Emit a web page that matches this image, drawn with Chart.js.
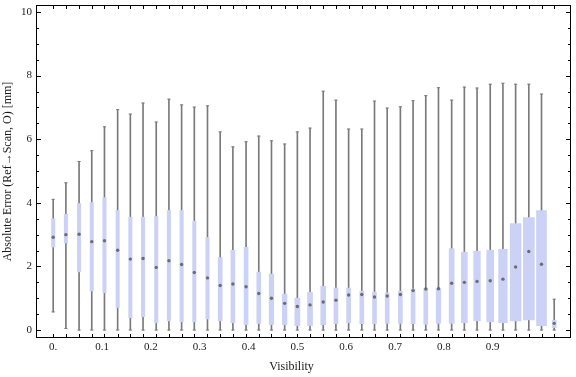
<!DOCTYPE html>
<html>
<head>
<meta charset="utf-8">
<script src="https://cdn.jsdelivr.net/npm/chart.js@4.4.1/dist/chart.umd.min.js"></script>
<style>
  html, body { margin: 0; padding: 0; background: #fff; }
  canvas { display: block; }
</style>
</head>
<body>
<canvas id="chart_absErrorByVisibility" width="576" height="377"></canvas>
<script>
// one box per visibility bin
var visibility = [0, 0.026, 0.053, 0.079, 0.105, 0.132, 0.158, 0.184, 0.211, 0.237,
    0.263, 0.289, 0.316, 0.342, 0.368, 0.395, 0.421, 0.447, 0.474, 0.5,
    0.526, 0.553, 0.579, 0.605, 0.632, 0.658, 0.684, 0.711, 0.737, 0.763,
    0.789, 0.816, 0.842, 0.868, 0.895, 0.921, 0.947, 0.974, 1.0, 1.026];
var whiskerLow = [0.57, 0.05, 0, 0, 0, 0, 0, 0, 0, 0,
    0, 0, 0, 0, 0, 0, 0, 0, 0, 0,
    0, 0, 0, 0, 0, 0, 0, 0, 0, 0,
    0, 0, 0, 0, 0, 0, 0, 0, 0, 0];
var boxLow = [2.61, 2.74, 1.83, 1.23, 1.17, 0.71, 0.39, 0.42, 0.23, 0.29,
    0.26, 0.26, 0.35, 0.29, 0.23, 0.17, 0.21, 0.17, 0.17, 0.14,
    0.14, 0.17, 0.20, 0.23, 0.20, 0.20, 0.21, 0.21, 0.20, 0.18,
    0.21, 0.21, 0.23, 0.29, 0.26, 0.23, 0.29, 0.32, 0.14, 0.08];
var median = [2.92, 3.00, 3.01, 2.78, 2.81, 2.51, 2.23, 2.25, 1.97, 2.18,
    2.06, 1.81, 1.64, 1.40, 1.45, 1.36, 1.15, 1.00, 0.84, 0.74,
    0.79, 0.88, 0.94, 1.10, 1.12, 1.04, 1.07, 1.12, 1.24, 1.29,
    1.30, 1.47, 1.50, 1.53, 1.55, 1.60, 1.98, 2.47, 2.07, 0.21];
var boxHigh = [3.50, 3.64, 3.98, 4.01, 4.16, 3.76, 3.55, 3.55, 3.57, 3.76,
    3.76, 3.42, 2.91, 2.28, 2.51, 2.60, 1.82, 1.76, 1.13, 1.00,
    1.19, 1.38, 1.32, 1.32, 1.22, 1.19, 1.17, 1.22, 1.29, 1.31,
    1.31, 2.56, 2.45, 2.48, 2.51, 2.54, 3.35, 3.54, 3.76, 0.31];
var whiskerHigh = [4.11, 4.63, 5.30, 5.64, 6.39, 6.93, 6.79, 7.14, 6.54, 7.26,
    7.08, 7.01, 7.05, 6.23, 5.76, 5.92, 6.10, 5.95, 5.85, 6.23,
    6.35, 7.51, 7.23, 6.32, 6.32, 7.20, 6.98, 7.02, 7.21, 7.37,
    7.62, 7.23, 7.64, 7.61, 7.73, 7.76, 7.73, 7.73, 7.42, 0.97];
// relative weight of each bin, shown as the box width
var binWeight = [0.85, 0.85, 0.85, 0.85, 0.85, 0.85, 0.85, 0.85, 0.85, 0.85,
    0.85, 0.85, 0.85, 1, 1, 1, 1, 1.15, 1.15, 1.25,
    1.25, 1.25, 1, 1, 1, 1, 1, 1, 1, 1,
    1.15, 1.25, 1.5, 1.65, 1.75, 2.15, 2.7, 2.75, 2.5, 1];

var xTickValues = [0, 0.1, 0.2, 0.3, 0.4, 0.5, 0.6, 0.7, 0.8, 0.9];
var xTickLabels = ['0.', '0.1', '0.2', '0.3', '0.4', '0.5', '0.6', '0.7', '0.8', '0.9'];
var yTickValues = [0, 2, 4, 6, 8, 10];
var yTickLabels = ['0', '2', '4', '6', '8', '10'];

var BOX_COLOR = 'rgb(204, 210, 245)';
var WHISKER_COLOR = '#7a7a7a';
var MEDIAN_COLOR = 'rgba(90, 90, 90, 0.85)';
var TEXT_COLOR = '#1a1a1a';
var FONT = '"Liberation Serif", "Times New Roman", serif';

// boxes: one dataset per width so every bar keeps its own thickness
var widths = [];
binWeight.forEach(function (w) { if (widths.indexOf(w) < 0) widths.push(w); });
var boxDatasets = widths.map(function (w) {
    var pts = [];
    visibility.forEach(function (v, i) {
        if (binWeight[i] === w) pts.push({x: v, y: [boxLow[i], boxHigh[i]]});
    });
    return {
        type: 'bar',
        data: pts,
        backgroundColor: BOX_COLOR,
        borderWidth: 0,
        barThickness: 4 * w,
        grouped: false,
        order: 2
    };
});

var datasets = boxDatasets.concat([
    {
        type: 'bar',
        data: visibility.map(function (v, i) { return {x: v, y: [whiskerLow[i], whiskerHigh[i]]}; }),
        backgroundColor: WHISKER_COLOR,
        borderWidth: 0,
        barThickness: 1,
        grouped: false,
        order: 3
    },
    {
        type: 'scatter',
        data: visibility.map(function (v, i) { return {x: v, y: whiskerLow[i]}; })
            .concat(visibility.map(function (v, i) { return {x: v, y: whiskerHigh[i]}; })),
        pointStyle: 'line',
        pointRadius: 1.6,
        borderColor: WHISKER_COLOR,
        borderWidth: 1,
        order: 1
    },
    {
        type: 'scatter',
        data: visibility.map(function (v, i) { return {x: v, y: median[i]}; }),
        pointStyle: 'circle',
        pointRadius: 1.7,
        backgroundColor: MEDIAN_COLOR,
        borderWidth: 0,
        order: 0
    }
]);

// Mathematica style frame: ticks pointing inwards on all four sides
var frameTicks = {
    id: 'frameTicks',
    afterDraw: function (chart) {
        var ctx = chart.ctx, a = chart.chartArea;
        var xs = chart.scales.x, ys = chart.scales.y;
        ctx.save();
        ctx.strokeStyle = '#000';
        ctx.lineWidth = 1;
        ctx.beginPath();
        visibility.forEach(function (v) {
            var px = Math.round(xs.getPixelForValue(v)) + 0.5;
            ctx.moveTo(px, a.bottom); ctx.lineTo(px, a.bottom - 4);
            ctx.moveTo(px, a.top); ctx.lineTo(px, a.top + 4);
        });
        for (var v = 0; v <= 10; v += 0.5) {
            var py = Math.round(ys.getPixelForValue(v)) + 0.5;
            var len = (v % 2 === 0) ? 5 : 3;
            ctx.moveTo(a.left, py); ctx.lineTo(a.left + len, py);
            ctx.moveTo(a.right, py); ctx.lineTo(a.right - len, py);
        }
        ctx.stroke();
        ctx.strokeRect(a.left + 0.5, a.top + 0.5, a.right - a.left - 1, a.bottom - a.top - 1);

        ctx.fillStyle = TEXT_COLOR;
        ctx.font = '12px ' + FONT;
        ctx.textAlign = 'center';
        ctx.textBaseline = 'middle';
        ctx.fillText('Visibility', (a.left + a.right) / 2 - 12, 367);
        ctx.restore();
    }
};

var chart_absErrorByVisibility = new Chart(document.getElementById('chart_absErrorByVisibility'), {
    type: 'bar',
    data: { datasets: datasets },
    options: {
        animation: false,
        responsive: false,
        devicePixelRatio: 1,
        layout: { padding: { top: 4, right: 1, left: 0, bottom: 0 } },
        plugins: {
            legend: { display: false },
            tooltip: { enabled: false },
            title: { display: false }
        },
        scales: {
            x: {
                type: 'linear',
                min: -0.0352,
                max: 1.0604,
                offset: false,
                grid: { display: false, drawTicks: false },
                border: { display: false },
                afterBuildTicks: function (scale) {
                    scale.ticks = xTickValues.map(function (v) { return {value: v}; });
                },
                afterFit: function (scale) {
                    scale.height = 39;
                    scale.paddingLeft = 0;
                    scale.paddingRight = 0;
                },
                ticks: {
                    autoSkip: false,
                    maxRotation: 0,
                    padding: 3,
                    color: TEXT_COLOR,
                    font: { family: FONT, size: 11 },
                    callback: function (value, index) { return xTickLabels[index]; }
                }
            },
            y: {
                type: 'linear',
                min: -0.25,
                max: 10.22,
                grid: { display: false, drawTicks: false },
                border: { display: false },
                afterBuildTicks: function (scale) {
                    scale.ticks = yTickValues.map(function (v) { return {value: v}; });
                },
                afterFit: function (scale) {
                    scale.width = 36;
                    scale.paddingTop = 0;
                    scale.paddingBottom = 0;
                },
                ticks: {
                    padding: 4,
                    color: TEXT_COLOR,
                    font: { family: FONT, size: 11 },
                    callback: function (value, index) { return yTickLabels[index]; }
                },
                title: {
                    display: true,
                    text: 'Absolute Error (Ref\u2192Scan, O) [mm]',
                    color: TEXT_COLOR,
                    font: { family: FONT, size: 12 },
                    padding: { top: 1, bottom: 0 }
                }
            }
        }
    },
    plugins: [frameTicks]
});
</script>
</body>
</html>
